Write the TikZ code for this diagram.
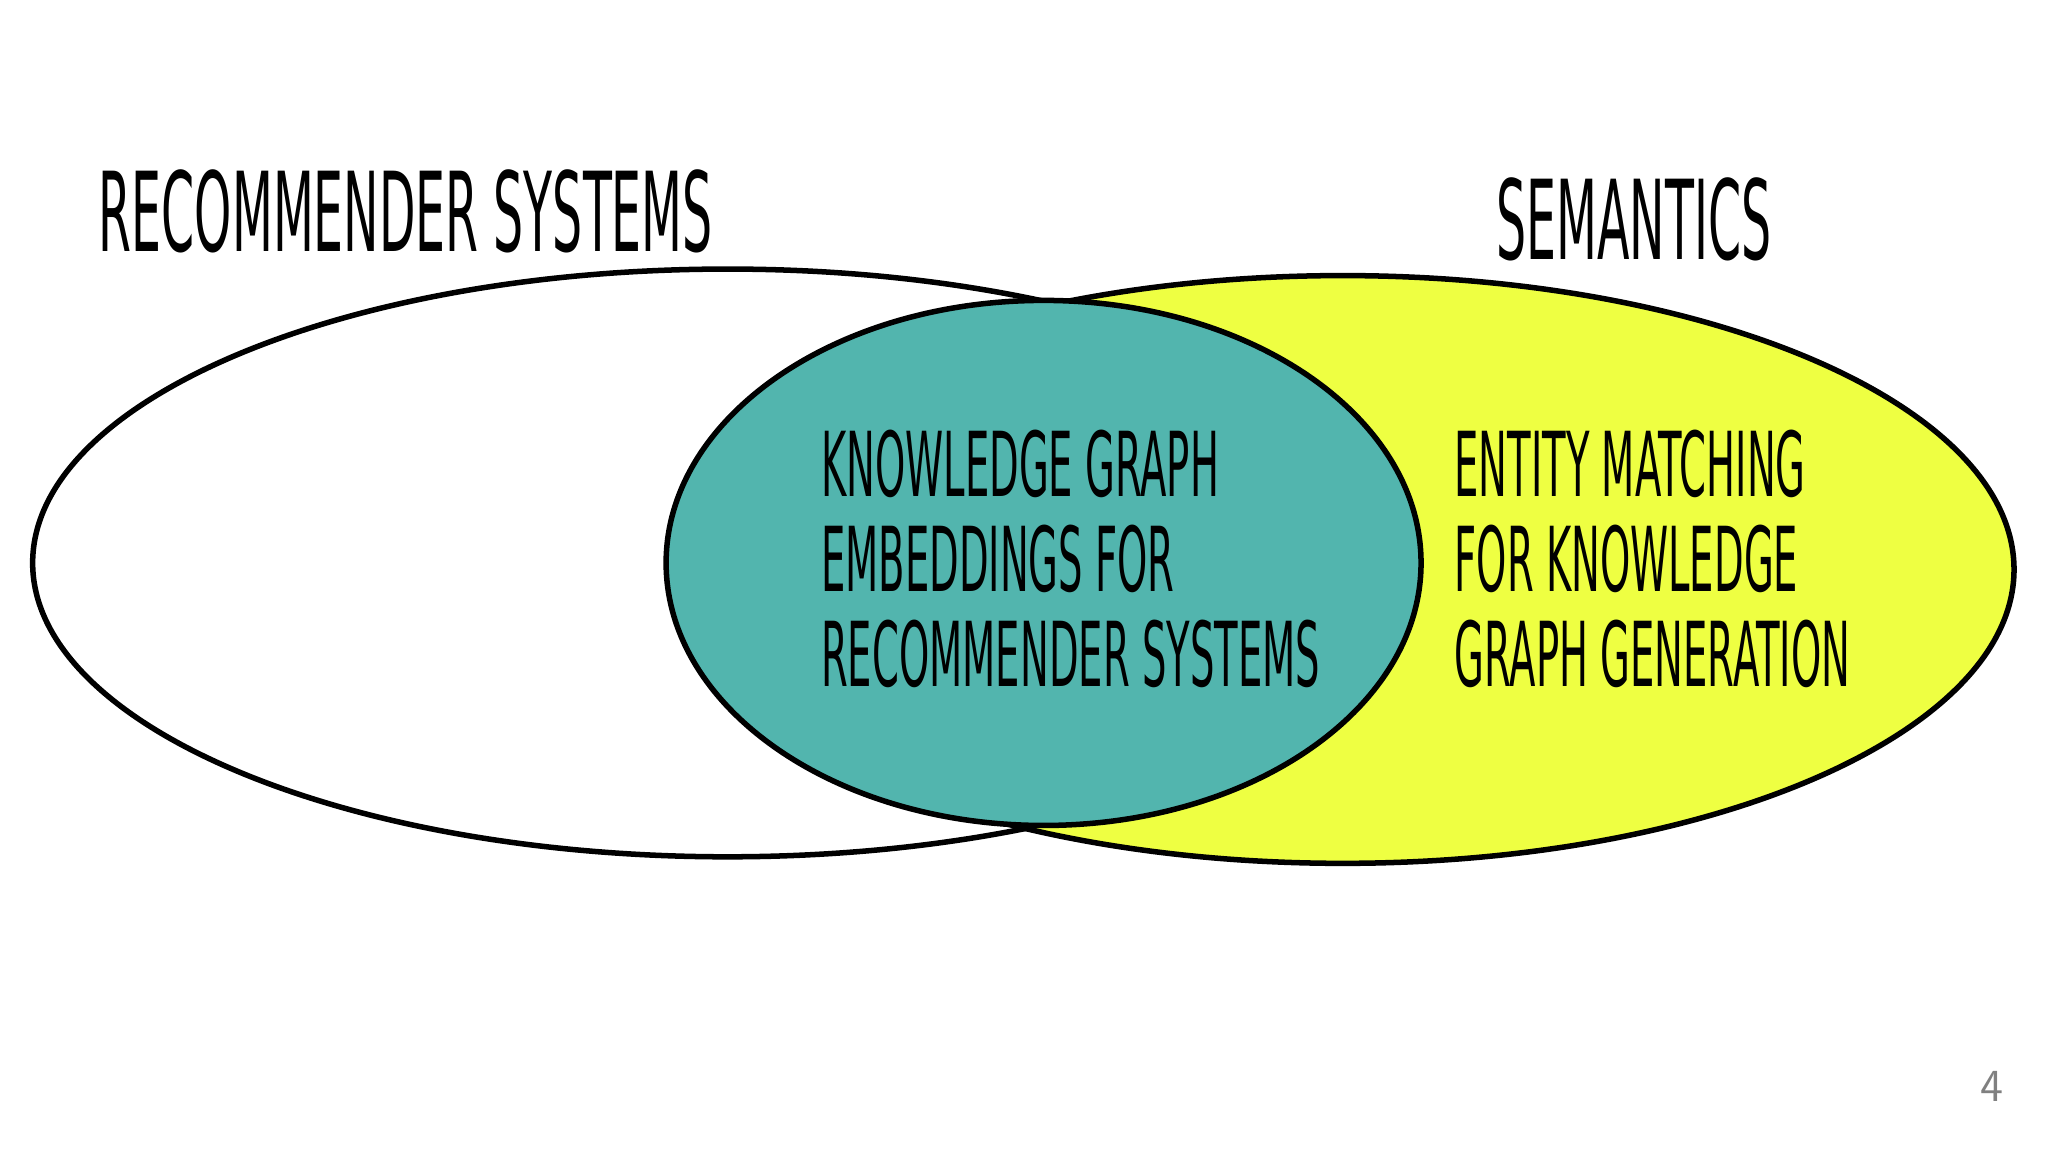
\documentclass[tikz,border=0pt]{standalone}
\usepackage{fontspec}
\newfontfamily\handfont{DejaVu Sans}[FakeStretch=0.43]
\definecolor{tealfill}{HTML}{52B5AE}
\definecolor{lemon}{HTML}{EEFF42}
\tikzset{
  venn/.style={draw=black, line width=1.2pt},
  title/.style={font=\handfont\fontsize{24}{28}\selectfont, anchor=west, inner sep=0pt},
  body/.style={font=\handfont\fontsize{19.5}{20.7}\selectfont, anchor=west, align=left, inner sep=0pt}
}
\begin{document}
\begin{tikzpicture}[x=0.01cm, y=-0.01cm]
    \useasboundingbox[fill=white] (0,0) rectangle (1568,882);
    % sets
    \draw[venn, fill=white] (557,431) ellipse [x radius=532, y radius=225];
    \draw[venn, fill=lemon] (1028,436) ellipse [x radius=514, y radius=225];
    \draw[venn, fill=tealfill] (799,431) ellipse [x radius=289, y radius=201];
    % labels
    \node[title] (recsys) at (75,162) {RECOMMENDER SYSTEMS};
    \node[title] (semantics) at (1145,168) {SEMANTICS};
    \node[body] (kge) at (628,428) {KNOWLEDGE GRAPH\\EMBEDDINGS FOR\\RECOMMENDER SYSTEMS};
    \node[body] (entity) at (1113,428) {ENTITY MATCHING\\FOR KNOWLEDGE\\GRAPH GENERATION};
    % page number
    \node[font=\sffamily\fontsize{10}{12}\selectfont, text=gray] (page) at (1525,832) {4};
\end{tikzpicture}
\end{document}
